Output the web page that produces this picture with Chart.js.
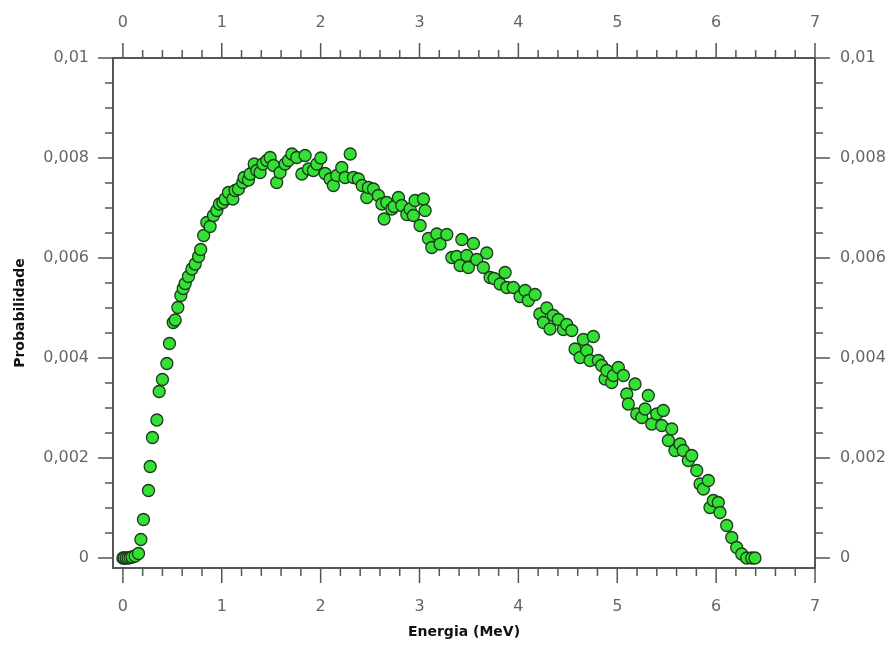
<!DOCTYPE html>
<html>
<head>
<meta charset="utf-8">
<script src="https://cdn.jsdelivr.net/npm/chart.js@4"></script>
<style>
  html, body { margin: 0; padding: 0; background: #fff; }
  #wrap { width: 893px; height: 646px; position: relative; }
</style>
</head>
<body>
<div id="wrap"><canvas id="myChart"></canvas></div>
<script>
// Energia (MeV)
const energia = [
  0.000, 0.013, 0.033, 0.053, 0.074, 0.094, 0.124, 0.158, 0.182, 0.208,
  0.259, 0.276, 0.299, 0.344, 0.367, 0.400, 0.445, 0.471, 0.509, 0.529,
  0.556, 0.586, 0.610, 0.630, 0.663, 0.698, 0.731, 0.766, 0.787, 0.817,
  0.849, 0.882, 0.916, 0.950, 0.977, 1.011, 1.034, 1.068, 1.112, 1.135,
  1.169, 1.213, 1.226, 1.270, 1.287, 1.328, 1.355, 1.388, 1.416, 1.456,
  1.489, 1.523, 1.556, 1.590, 1.641, 1.674, 1.709, 1.759, 1.810, 1.843,
  1.877, 1.927, 1.962, 2.002, 2.045, 2.095, 2.129, 2.164, 2.214, 2.248,
  2.299, 2.332, 2.382, 2.420, 2.467, 2.483, 2.534, 2.584, 2.619, 2.642,
  2.669, 2.720, 2.743, 2.787, 2.821, 2.872, 2.905, 2.938, 2.955, 3.006,
  3.040, 3.057, 3.090, 3.124, 3.175, 3.208, 3.276, 3.327, 3.377, 3.428,
  3.411, 3.478, 3.494, 3.545, 3.579, 3.646, 3.680, 3.714, 3.754, 3.815,
  3.866, 3.883, 3.949, 4.017, 4.068, 4.101, 4.169, 4.217, 4.253, 4.287,
  4.320, 4.354, 4.404, 4.455, 4.489, 4.540, 4.573, 4.624, 4.657, 4.692,
  4.725, 4.758, 4.809, 4.843, 4.877, 4.894, 4.944, 4.961, 5.011, 5.062,
  5.096, 5.112, 5.180, 5.197, 5.248, 5.281, 5.314, 5.349, 5.399, 5.450,
  5.466, 5.517, 5.551, 5.584, 5.635, 5.668, 5.719, 5.753, 5.804, 5.837,
  5.871, 5.921, 5.938, 5.972, 6.022, 6.039, 6.107, 6.158, 6.208, 6.259,
  6.309, 6.360, 6.393
];
// Probabilidade
const probabilidade = [
  0, 0, 0, 0, 0.00001, 0.00002, 0.00004, 0.00009, 0.00037, 0.00077,
  0.00135, 0.00183, 0.00241, 0.00276, 0.00333, 0.00357, 0.00389, 0.00429, 0.00471, 0.00476,
  0.00501, 0.00525, 0.00539, 0.00549, 0.00563, 0.00578, 0.00588, 0.00603, 0.00617, 0.00645,
  0.00671, 0.00663, 0.00685, 0.00695, 0.00708, 0.00711, 0.00718, 0.00731, 0.00718, 0.00735,
  0.00738, 0.00751, 0.00761, 0.00756, 0.00768, 0.00788, 0.00775, 0.00771, 0.00788, 0.00795,
  0.00801, 0.00785, 0.00751, 0.00771, 0.00788, 0.00795, 0.00808, 0.00801, 0.00768, 0.00805,
  0.00778, 0.00775, 0.00788, 0.00800, 0.00769, 0.00758, 0.00745, 0.00765, 0.00781, 0.00761,
  0.00808, 0.00761, 0.00758, 0.00745, 0.00721, 0.00741, 0.00738, 0.00725, 0.00708, 0.00678,
  0.00711, 0.00698, 0.00703, 0.00721, 0.00705, 0.00687, 0.00698, 0.00685, 0.00715, 0.00665,
  0.00718, 0.00695, 0.00639, 0.00621, 0.00648, 0.00628, 0.00647, 0.00601, 0.00603, 0.00637,
  0.00585, 0.00605, 0.00581, 0.00629, 0.00597, 0.00581, 0.00610, 0.00561, 0.00559, 0.00548,
  0.00571, 0.00541, 0.00541, 0.00523, 0.00535, 0.00515, 0.00527, 0.00488, 0.00471, 0.00500,
  0.00458, 0.00485, 0.00477, 0.00457, 0.00467, 0.00455, 0.00418, 0.00401, 0.00437, 0.00415,
  0.00395, 0.00443, 0.00395, 0.00385, 0.00358, 0.00375, 0.00351, 0.00365, 0.00381, 0.00365,
  0.00328, 0.00308, 0.00348, 0.00288, 0.00281, 0.00298, 0.00325, 0.00268, 0.00288, 0.00265,
  0.00295, 0.00235, 0.00258, 0.00215, 0.00228, 0.00215, 0.00195, 0.00205, 0.00175, 0.00148,
  0.00138, 0.00155, 0.00101, 0.00115, 0.00111, 0.00091, 0.00065, 0.00041, 0.00021, 0.00008,
  0, 0, 0
];

const xTicks = [0, 1, 2, 3, 4, 5, 6, 7];
const yTicks = [0, 0.002, 0.004, 0.006, 0.008, 0.01];
const yTickLabels = ["0", "0,002", "0,004", "0,006", "0,008", "0,01"];

const pontos = energia.map((e, i) => ({ x: e, y: probabilidade[i] }));

const tickFont = { family: "DejaVu Sans", size: 16 };
const titleFont = { family: "DejaVu Sans", size: 14, weight: "bold" };

function yLabel(v) {
  const i = yTicks.findIndex((t) => Math.abs(t - v) < 1e-9);
  return i >= 0 ? yTickLabels[i] : "";
}

// moldura + marcas de escala para fora nos quatro lados
const moldura = {
  id: "moldura",
  afterDraw(chart) {
    const ctx = chart.ctx;
    const a = chart.chartArea;
    const sx = chart.scales.x;
    const sy = chart.scales.y;
    ctx.save();
    ctx.strokeStyle = "#555";
    ctx.lineWidth = 1.5;
    ctx.beginPath();
    for (let i = 0; i <= 35; i++) {
      const px = sx.getPixelForValue(i / 5);
      const len = i % 5 === 0 ? 15 : 8;
      ctx.moveTo(px, a.bottom);
      ctx.lineTo(px, a.bottom + len);
      ctx.moveTo(px, a.top);
      ctx.lineTo(px, a.top - len);
    }
    for (let i = 0; i <= 20; i++) {
      const py = sy.getPixelForValue(i * 0.0005);
      const len = i % 4 === 0 ? 15 : 8;
      ctx.moveTo(a.left, py);
      ctx.lineTo(a.left - len, py);
      ctx.moveTo(a.right, py);
      ctx.lineTo(a.right + len, py);
    }
    ctx.stroke();
    ctx.lineWidth = 2;
    ctx.strokeRect(a.left, a.top, a.right - a.left, a.bottom - a.top);
    ctx.restore();
  },
};

const ctx = document.getElementById("myChart");
new Chart(ctx, {
  type: "scatter",
  data: {
    datasets: [
      {
        label: "Probabilidade",
        data: pontos,
        pointRadius: 6,
        pointBorderWidth: 1.3,
        backgroundColor: "#33e033",
        borderColor: "#1a3a1a",
      },
    ],
  },
  options: {
    responsive: true,
    maintainAspectRatio: false,
    animation: false,
    layout: { padding: 0 },
    plugins: {
      legend: { display: false },
      tooltip: { enabled: false },
    },
    scales: {
      x: {
        type: "linear",
        position: "bottom",
        min: -0.1,
        max: 7,
        afterBuildTicks: (s) => { s.ticks = xTicks.map((v) => ({ value: v })); },
        afterFit: (s) => { s.height = 78; },
        grid: { display: false, drawTicks: false },
        border: { display: false },
        ticks: { font: tickFont, color: "#666", padding: 29, maxRotation: 0 },
        title: {
          display: true,
          text: "Energia (MeV)",
          font: titleFont,
          color: "#111",
          padding: { top: 0, bottom: 5 },
        },
      },
      x2: {
        type: "linear",
        position: "top",
        min: -0.1,
        max: 7,
        afterBuildTicks: (s) => { s.ticks = xTicks.map((v) => ({ value: v })); },
        afterFit: (s) => { s.height = 58; },
        grid: { display: false, drawTicks: false },
        border: { display: false },
        ticks: { font: tickFont, color: "#666", padding: 26, maxRotation: 0 },
      },
      y: {
        type: "linear",
        position: "left",
        min: -0.0002,
        max: 0.01,
        afterBuildTicks: (s) => { s.ticks = yTicks.map((v) => ({ value: v })); },
        afterFit: (s) => { s.width = 113; },
        grid: { display: false, drawTicks: false },
        border: { display: false },
        ticks: { font: tickFont, color: "#666", padding: 24, callback: yLabel },
        title: {
          display: true,
          text: "Probabilidade",
          font: titleFont,
          color: "#111",
          padding: { top: 12, bottom: 0 },
        },
      },
      y2: {
        type: "linear",
        position: "right",
        min: -0.0002,
        max: 0.01,
        afterBuildTicks: (s) => { s.ticks = yTicks.map((v) => ({ value: v })); },
        afterFit: (s) => { s.width = 78; },
        grid: { display: false, drawTicks: false },
        border: { display: false },
        ticks: { font: tickFont, color: "#666", padding: 25, callback: yLabel },
      },
    },
  },
  plugins: [moldura],
});
</script>
</body>
</html>
